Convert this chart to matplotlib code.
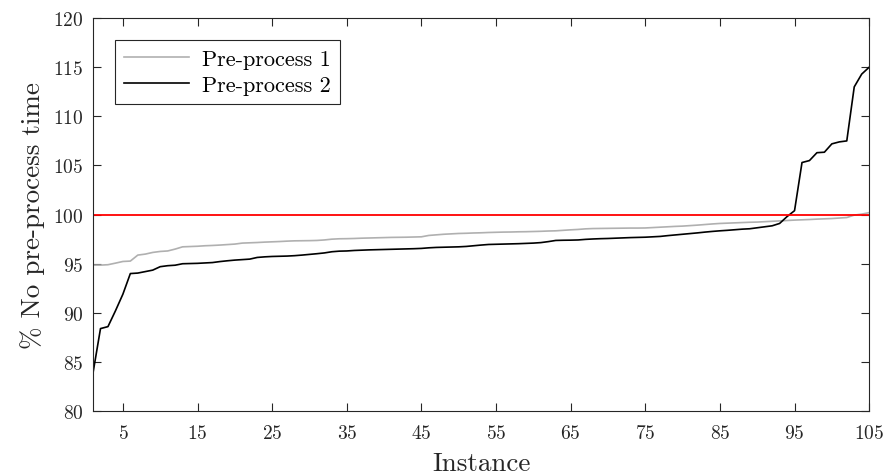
import numpy as np
import matplotlib
matplotlib.use('Agg')
from matplotlib import pyplot as plt

plt.rcParams['font.family'] = 'serif'
plt.rcParams['font.serif'] = ['cmr10', 'DejaVu Serif']
plt.rcParams['mathtext.fontset'] = 'cm'
plt.rcParams['axes.unicode_minus'] = False
plt.rcParams['axes.formatter.use_mathtext'] = True

instances = np.arange(1, 106)

pre_process_1 = [
    94.86, 94.86, 94.90, 95.06, 95.23, 95.27, 95.88, 95.98, 96.15, 96.25,
    96.30, 96.49, 96.72, 96.75, 96.78, 96.83, 96.86, 96.90, 96.95, 97.00,
    97.10, 97.13, 97.16, 97.20, 97.23, 97.26, 97.30, 97.33, 97.34, 97.35,
    97.37, 97.42, 97.50, 97.54, 97.55, 97.57, 97.60, 97.62, 97.64, 97.66,
    97.68, 97.69, 97.70, 97.72, 97.74, 97.88, 97.94, 98.00, 98.04, 98.08,
    98.10, 98.13, 98.15, 98.18, 98.20, 98.22, 98.23, 98.25, 98.26, 98.28,
    98.30, 98.33, 98.35, 98.40, 98.45, 98.49, 98.55, 98.58, 98.59, 98.60,
    98.61, 98.62, 98.63, 98.63, 98.64, 98.68, 98.72, 98.76, 98.80, 98.83,
    98.88, 98.93, 98.99, 99.05, 99.10, 99.13, 99.16, 99.19, 99.22, 99.24,
    99.28, 99.32, 99.36, 99.40, 99.44, 99.47, 99.50, 99.54, 99.57, 99.60,
    99.65, 99.70, 99.95, 100.05, 100.20,
]

pre_process_2 = [
    83.9, 88.4, 88.6, 90.2, 91.9, 94.0, 94.05, 94.2, 94.35, 94.7,
    94.8, 94.85, 95.0, 95.02, 95.04, 95.08, 95.12, 95.22, 95.3, 95.37,
    95.42, 95.47, 95.64, 95.7, 95.74, 95.76, 95.78, 95.82, 95.88, 95.95,
    96.02, 96.1, 96.22, 96.28, 96.3, 96.35, 96.38, 96.41, 96.43, 96.45,
    96.47, 96.49, 96.51, 96.53, 96.56, 96.62, 96.66, 96.68, 96.7, 96.72,
    96.76, 96.83, 96.9, 96.96, 96.98, 97.0, 97.02, 97.04, 97.07, 97.1,
    97.15, 97.25, 97.37, 97.39, 97.4, 97.42, 97.48, 97.52, 97.55, 97.57,
    97.6, 97.63, 97.66, 97.68, 97.7, 97.74, 97.78, 97.86, 97.93, 98.0,
    98.07, 98.14, 98.22, 98.29, 98.35, 98.4, 98.46, 98.52, 98.56, 98.66,
    98.76, 98.86, 99.1, 99.8, 100.4, 105.3, 105.5, 106.3, 106.35, 107.2,
    107.4, 107.5, 113.0, 114.3, 115.0,
]

x_ticks = list(range(5, 106, 10))
y_ticks = list(range(80, 121, 5))

fig = plt.figure(figsize=(8.86, 4.77), dpi=100)
ax = fig.add_axes([0.105, 0.136, 0.876, 0.824])

ax.plot(instances, pre_process_1, color='#b0b0b0', lw=1.2, label='Pre-process 1')
ax.plot(instances, pre_process_2, color='#000000', lw=1.2, label='Pre-process 2')
ax.axhline(100, color='#ff0000', lw=1.3)

ax.set_xlim(1, 105)
ax.set_ylim(80, 120)
ax.set_xticks(x_ticks)
ax.set_yticks(y_ticks)
ax.tick_params(direction='in', top=True, right=True, length=6, width=0.8,
               labelsize=14, colors='#262626')
ax.tick_params(axis='x', pad=9)
ax.tick_params(axis='y', pad=7)
for s in ax.spines.values():
    s.set_color('#262626')
    s.set_linewidth(0.8)

ax.set_xlabel('Instance', fontsize=19.5, color='#262626', labelpad=7)
ax.set_ylabel('% No pre-process time', fontsize=19.5, color='#262626', labelpad=6)

leg = ax.legend(loc='upper left', fontsize=16, fancybox=False, framealpha=1,
                edgecolor='#262626', handlelength=2.9, handletextpad=0.6,
                borderaxespad=1.0, borderpad=0.4, labelspacing=0.3)
leg.get_frame().set_linewidth(0.8)

plt.savefig('out.png', dpi=100)
plt.close()
